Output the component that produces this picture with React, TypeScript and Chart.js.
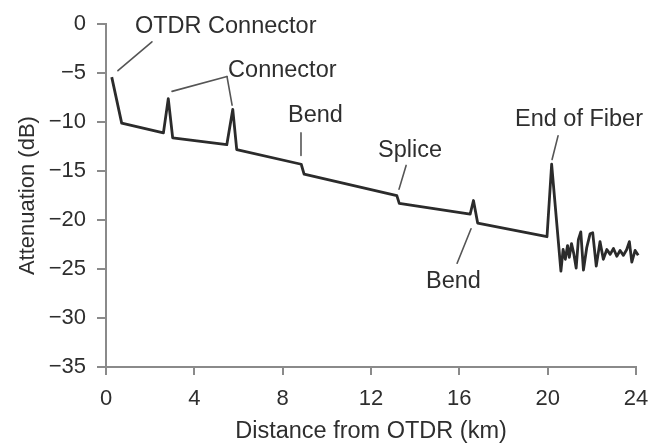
import React, { useEffect, useRef } from "react";
import { Chart, registerables } from "chart.js";

Chart.register(...registerables);

// Trace of the OTDR measurement (distance in km, attenuation in dB)
const distanceKm = [
  0.26, 0.71, 2.6, 2.82, 3.02, 5.47, 5.74, 5.92, 8.84, 8.97, 13.17, 13.28,
  16.49, 16.64, 16.83, 19.97, 20.18, 20.6, 20.7, 20.8, 20.9, 20.98, 21.08,
  21.18, 21.29, 21.39, 21.5, 21.62, 21.77, 21.92, 22.04, 22.2, 22.37, 22.52,
  22.68, 22.83, 22.98, 23.13, 23.28, 23.43, 23.58, 23.7, 23.81, 23.96, 24.1,
  24.3,
];
const attenuationDb = [
  -5.4, -10.1, -11.1, -7.6, -11.6, -12.3, -8.7, -12.8, -14.3, -15.3, -17.5,
  -18.3, -19.4, -18.0, -20.3, -21.7, -14.3, -25.2, -23.0, -24.0, -22.6, -23.8,
  -22.4, -23.4, -24.9, -22.0, -21.2, -25.1, -22.8, -21.4, -21.3, -24.7, -22.2,
  -24.0, -23.0, -23.5, -22.9, -23.7, -23.1, -23.6, -23.0, -22.2, -24.3, -23.1,
  -23.6, -23.4,
];

// Axis ticks
const xTickValues = [0, 4, 8, 12, 16, 20, 24];
const yTickValues = [0, -5, -10, -15, -20, -25, -30, -35];

// Annotation labels (anchored in data units: left edge km, vertical centre dB)
const labelTexts = ["OTDR Connector", "Connector", "Bend", "Splice", "End of Fiber", "Bend"];
const labelKm = [1.31, 5.53, 8.24, 12.32, 18.52, 14.49];
const labelDb = [-0.2, -4.7, -9.3, -12.9, -9.7, -26.3];

// Leader lines (data units)
const leaderFromKm = [2.08, 2.99, 5.48, 8.83, 13.59, 20.47, 16.53];
const leaderFromDb = [-1.8, -6.86, -5.35, -11.1, -14.42, -11.4, -20.88];
const leaderToKm = [0.54, 5.48, 5.71, 8.83, 13.27, 20.2, 15.9];
const leaderToDb = [-4.74, -5.35, -8.27, -13.4, -16.84, -13.82, -24.41];

const FONT = '"Liberation Sans", Arial, Helvetica, sans-serif';
const TEXT = "#2e2e2e";
const AXIS = "#8a8a8a";

const whiteBg = {
  id: "whiteBg",
  beforeDraw(chart: any) {
    const { ctx, width, height } = chart;
    ctx.save();
    ctx.fillStyle = "#ffffff";
    ctx.fillRect(0, 0, width, height);
    ctx.restore();
  },
};

const annotations = {
  id: "otdrAnnotations",
  afterDatasetsDraw(chart: any) {
    const { ctx, scales } = chart;
    const xs = scales.x;
    const ys = scales.y;
    ctx.save();
    ctx.strokeStyle = "#555555";
    ctx.lineWidth = 1.6;
    ctx.lineCap = "round";
    for (let i = 0; i < leaderFromKm.length; i++) {
      ctx.beginPath();
      ctx.moveTo(xs.getPixelForValue(leaderFromKm[i]), ys.getPixelForValue(leaderFromDb[i]));
      ctx.lineTo(xs.getPixelForValue(leaderToKm[i]), ys.getPixelForValue(leaderToDb[i]));
      ctx.stroke();
    }
    ctx.fillStyle = TEXT;
    ctx.font = `23.5px ${FONT}`;
    ctx.textAlign = "left";
    ctx.textBaseline = "middle";
    for (let i = 0; i < labelTexts.length; i++) {
      ctx.fillText(labelTexts[i], xs.getPixelForValue(labelKm[i]), ys.getPixelForValue(labelDb[i]));
    }
    ctx.restore();
  },
};

export default function App() {
  const ref = useRef<HTMLCanvasElement>(null);
  useEffect(() => {
    document.body.style.margin = "0";
    const points = distanceKm.map((x, i) => ({ x, y: attenuationDb[i] }));
    const chart = new Chart(ref.current as HTMLCanvasElement, {
      type: "line",
      data: {
        datasets: [
          {
            data: points,
            borderColor: "#2b2b2b",
            borderWidth: 2.8,
            pointRadius: 0,
            tension: 0,
            borderJoinStyle: "round",
            clip: false as any,
          },
        ],
      },
      options: {
        animation: false,
        responsive: false,
        devicePixelRatio: 1,
        layout: { padding: { top: 20, right: 12, left: 0, bottom: 0 } },
        plugins: { legend: { display: false }, tooltip: { enabled: false } },
        scales: {
          x: {
            type: "linear",
            min: 0,
            max: 24,
            afterBuildTicks: (s: any) => {
              s.ticks = xTickValues.map((v) => ({ value: v }));
            },
            afterFit: (s: any) => {
              s.height = 80;
              s.paddingRight = 0;
              s.paddingLeft = 0;
            },
            border: { display: true, color: AXIS, width: 2 },
            grid: { display: true, drawOnChartArea: false, drawTicks: true, tickLength: 8, color: AXIS, lineWidth: 2 },
            ticks: { color: TEXT, font: { family: FONT, size: 22 }, padding: 11, maxRotation: 0 },
            title: {
              display: true,
              text: "Distance from OTDR (km)",
              color: TEXT,
              font: { family: FONT, size: 23.5 },
              padding: { top: 0, bottom: 1 },
            },
          },
          y: {
            type: "linear",
            min: -35,
            max: 0,
            afterBuildTicks: (s: any) => {
              s.ticks = yTickValues.map((v) => ({ value: v }));
            },
            afterFit: (s: any) => {
              s.width = 106;
            },
            border: { display: true, color: AXIS, width: 2 },
            grid: { display: true, drawOnChartArea: false, drawTicks: true, tickLength: 9, color: AXIS, lineWidth: 2 },
            ticks: {
              color: TEXT,
              font: { family: FONT, size: 22 },
              padding: 11,
              callback: (v: any) => (Number(v) === 0 ? "0" : "\u2212" + Math.abs(Number(v))),
            },
            title: {
              display: true,
              text: "Attenuation (dB)",
              color: TEXT,
              font: { family: FONT, size: 22 },
              padding: { top: 15, bottom: 0 },
            },
          },
        },
      },
      plugins: [whiteBg, annotations],
    });
    return () => chart.destroy();
  }, []);
  return (
    <div style={{ width: 648, height: 447, background: "#fff" }}>
      <canvas ref={ref} width={648} height={447} style={{ display: "block" }} />
    </div>
  );
}
